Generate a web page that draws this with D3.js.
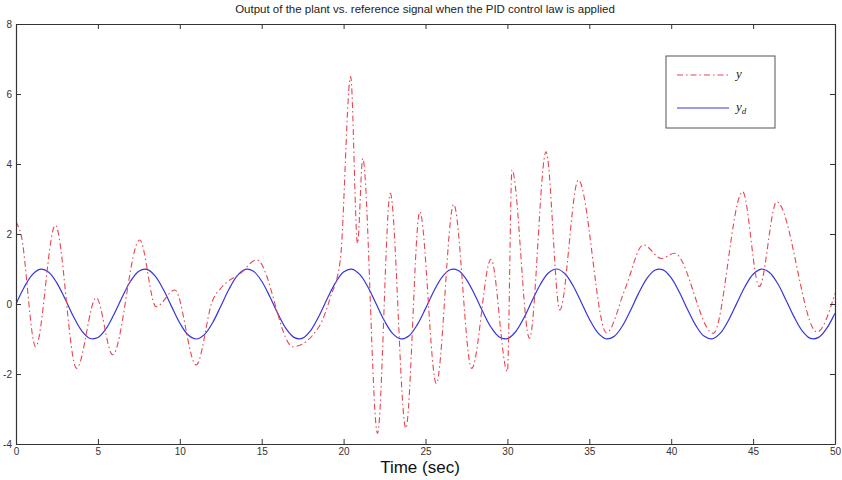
<!DOCTYPE html>
<html>
<head>
<meta charset="utf-8">
<script src="https://cdn.jsdelivr.net/npm/d3@7"></script>
<style>
  html, body { margin: 0; padding: 0; background: #fff; }
  svg { display: block; font-family: "Liberation Sans", Arial, sans-serif; }
</style>
</head>
<body>
<svg id="chart" width="842" height="480"></svg>
<script>
// ---- data ----
const xTicks = [0, 5, 10, 15, 20, 25, 30, 35, 40, 45, 50];
const yTicks = [-4, -2, 0, 2, 4, 6, 8];

// reference signal y_d, sampled every 0.5 s
const ydTime = [0,0.5,1,1.5,2,2.5,3,3.5,4,4.5,5,5.5,6,6.5,7,7.5,8,8.5,9,9.5,10,10.5,11,11.5,12,12.5,13,13.5,14,14.5,15,15.5,16,16.5,17,17.5,18,18.5,19,19.5,20,20.5,21,21.5,22,22.5,23,23.5,24,24.5,25,25.5,26,26.5,27,27.5,28,28.5,29,29.5,30,30.5,31,31.5,32,32.5,33,33.5,34,34.5,35,35.5,36,36.5,37,37.5,38,38.5,39,39.5,40,40.5,41,41.5,42,42.5,43,43.5,44,44.5,45,45.5,46,46.5,47,47.5,48,48.5,49,49.5,50];
const ydValues = [0,0.479,0.841,0.997,0.909,0.598,0.141,-0.351,-0.757,-0.978,-0.959,-0.706,-0.279,0.215,0.657,0.938,0.989,0.798,0.412,-0.075,-0.544,-0.880,-1.000,-0.875,-0.537,-0.066,0.420,0.804,0.991,0.935,0.650,0.207,-0.288,-0.712,-0.961,-0.976,-0.751,-0.342,0.150,0.605,0.913,0.996,0.837,0.471,-0.009,-0.487,-0.846,-0.998,-0.906,-0.591,-0.132,0.359,0.763,0.980,0.956,0.699,0.271,-0.224,-0.664,-0.942,-0.988,-0.793,-0.404,0.084,0.551,0.884,1.000,0.871,0.529,0.057,-0.428,-0.809,-0.992,-0.932,-0.644,-0.198,0.296,0.718,0.964,0.974,0.745,0.334,-0.159,-0.612,-0.917,-0.995,-0.832,-0.463,0.018,0.494,0.851,0.999,0.902,0.585,0.123,-0.367,-0.768,-0.982,-0.954,-0.692,-0.262];

// plant output y (turning points and shoulders)
const yTime = [0,0.3,1.2,2.4,3.7,4.9,5.9,7.55,8.55,9.7,11.0,12.0,12.6,13.7,14.7,16.9,18.5,19.2,19.8,20.43,20.85,21.17,22.07,22.85,23.8,24.65,25.66,26.72,27.82,29.0,30.0,30.28,31.35,32.36,33.2,34.33,36.05,37.2,38.3,39.4,40.2,42.57,44.36,45.38,46.44,48.9,50];
const yValues = [2.35,2.0,-1.22,2.25,-1.84,0.18,-1.45,1.83,-0.08,0.4,-1.74,0.1,0.5,0.87,1.26,-1.22,-0.65,0.2,1.26,6.5,1.73,4.16,-3.7,3.16,-3.55,2.64,-2.27,2.85,-1.84,1.28,-1.93,3.83,-0.98,4.35,-0.17,3.54,-0.82,0.45,1.69,1.3,1.45,-0.84,3.21,0.5,2.92,-0.8,0.3];

// ---- layout ----
const svg = d3.select("#chart");
const L = 16, R = 835, T = 24, B = 444;
const x = d3.scaleLinear().domain([0, 50]).range([L, R]);
const y = d3.scaleLinear().domain([-4, 8]).range([B, T]);

const axisColor = "#333";
const redColor = "#ea4450";
const blueColor = "#3636da";

// title
svg.append("text")
  .attr("x", 425).attr("y", 13)
  .attr("text-anchor", "middle")
  .attr("font-size", 11.5).attr("fill", "#222")
  .text("Output of the plant vs. reference signal when the PID control law is applied");

// clip
svg.append("defs").append("clipPath").attr("id", "clip")
  .append("rect").attr("x", L).attr("y", T).attr("width", R - L).attr("height", B - T);

// series
const ydData = ydTime.map((t, i) => [t, ydValues[i]]);
const yData = yTime.map((t, i) => [t, yValues[i]]);

const lineSmooth = d3.line().x(d => x(d[0])).y(d => y(d[1])).curve(d3.curveCatmullRom.alpha(0.5));
const lineMono = d3.line().x(d => x(d[0])).y(d => y(d[1])).curve(d3.curveMonotoneX);

const g = svg.append("g").attr("clip-path", "url(#clip)");
g.append("path").datum(ydData)
  .attr("d", lineSmooth).attr("fill", "none")
  .attr("stroke", blueColor).attr("stroke-width", 1.2);
g.append("path").datum(yData)
  .attr("d", lineMono).attr("fill", "none")
  .attr("stroke", redColor).attr("stroke-width", 1.1)
  .attr("stroke-dasharray", "6,3,1.5,3");

// axes (ticks pointing inward, MATLAB box style)
function styleAxis(sel) {
  sel.selectAll("path.domain").attr("stroke", axisColor).attr("stroke-width", 1.2);
  sel.selectAll(".tick line").attr("stroke", axisColor).attr("stroke-width", 1);
  sel.selectAll(".tick text").attr("fill", "#333").attr("font-size", 10);
}
svg.append("g").attr("transform", `translate(0,${B})`)
  .call(d3.axisBottom(x).tickValues(xTicks).tickSizeInner(-5).tickSizeOuter(0).tickPadding(4).tickFormat(d3.format("d")))
  .call(styleAxis);
svg.append("g").attr("transform", `translate(0,${T})`)
  .call(d3.axisTop(x).tickValues(xTicks).tickSizeInner(-5).tickSizeOuter(0).tickFormat(""))
  .call(styleAxis);
svg.append("g").attr("transform", `translate(${L},0)`)
  .call(d3.axisLeft(y).tickValues(yTicks).tickSizeInner(-5).tickSizeOuter(0).tickPadding(4).tickFormat(d => String(d)))
  .call(styleAxis);
svg.append("g").attr("transform", `translate(${R},0)`)
  .call(d3.axisRight(y).tickValues(yTicks).tickSizeInner(-5).tickSizeOuter(0).tickFormat(""))
  .call(styleAxis);

// x label
svg.append("text")
  .attr("x", 420).attr("y", 473)
  .attr("text-anchor", "middle")
  .attr("font-size", 17).attr("fill", "#111")
  .text("Time (sec)");

// legend
const lg = svg.append("g");
lg.append("rect").attr("x", 666).attr("y", 56).attr("width", 109).attr("height", 72)
  .attr("fill", "#fff").attr("stroke", "#555").attr("stroke-width", 1);
lg.append("line").attr("x1", 677).attr("x2", 728).attr("y1", 75).attr("y2", 75)
  .attr("stroke", redColor).attr("stroke-width", 1.1).attr("stroke-dasharray", "6,3,1.5,3");
lg.append("line").attr("x1", 677).attr("x2", 729).attr("y1", 108).attr("y2", 108)
  .attr("stroke", blueColor).attr("stroke-width", 1.2);
lg.append("text").attr("x", 736).attr("y", 78)
  .attr("font-family", "'Liberation Serif', 'DejaVu Serif', serif").attr("font-style", "italic")
  .attr("font-size", 13).attr("fill", "#222").text("y");
const t2 = lg.append("text").attr("x", 736).attr("y", 111)
  .attr("font-family", "'Liberation Serif', 'DejaVu Serif', serif").attr("font-style", "italic")
  .attr("font-size", 13).attr("fill", "#222");
t2.append("tspan").text("y");
t2.append("tspan").attr("font-size", 9).attr("dy", 3).text("d");
</script>
</body>
</html>
